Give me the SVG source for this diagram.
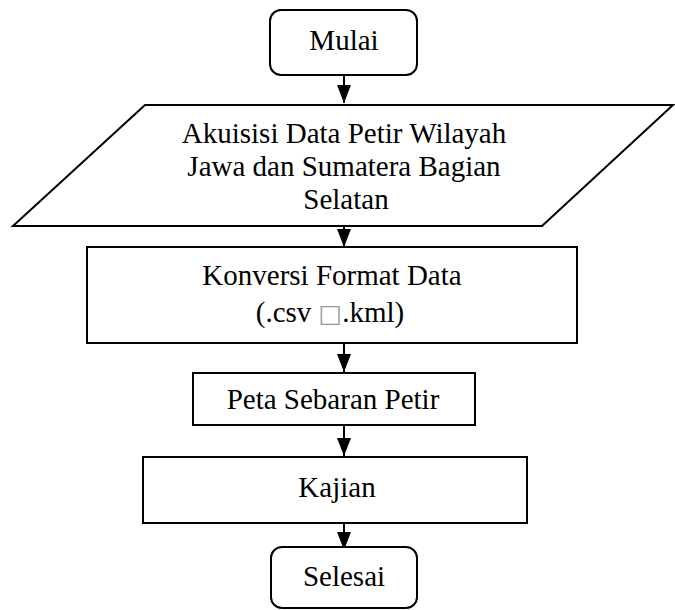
<svg xmlns="http://www.w3.org/2000/svg" width="675" height="610" viewBox="0 0 675 610">
<style>
.s{fill:#fff;stroke:#000;stroke-width:2}
.t{font-family:'Liberation Serif','Times New Roman',serif;font-size:29px;fill:#000;text-anchor:middle}
.c{stroke:#000;stroke-width:2;fill:none}
.g{font-family:'DejaVu Sans',sans-serif;fill:#999;font-size:25px}
</style>
<defs>
<marker id="ah" markerWidth="18" markerHeight="14" refX="18" refY="7" orient="auto" markerUnits="userSpaceOnUse">
<path d="M0,0 L18,7 L0,14 z" fill="#000"/>
</marker>
</defs>
<rect width="675" height="610" fill="#fff"/>
<g id="connectors">
<line class="c" x1="344" y1="75" x2="344" y2="103" marker-end="url(#ah)"/>
<line class="c" x1="344" y1="226" x2="344" y2="247" marker-end="url(#ah)"/>
<line class="c" x1="344" y1="343" x2="344" y2="372" marker-end="url(#ah)"/>
<line class="c" x1="344" y1="425" x2="344" y2="456" marker-end="url(#ah)"/>
<line class="c" x1="344" y1="523" x2="344" y2="550" marker-end="url(#ah)"/>
</g>
<g id="mulai">
<rect class="s" x="270" y="10" width="147" height="65" rx="11"/>
<text class="t" x="344" y="50">Mulai</text>
</g>
<g id="akuisisi">
<polygon class="s" points="145,105 673,105 542,226 13,226"/>
<text class="t" x="344" y="143">Akuisisi Data Petir Wilayah</text>
<text class="t" x="344" y="176">Jawa dan Sumatera Bagian</text>
<text class="t" x="346" y="209">Selatan</text>
</g>
<g id="konversi">
<rect class="s" x="87" y="247" width="490" height="96"/>
<text class="t" x="332" y="285">Konversi Format Data</text>
<text class="t" x="330" y="322">(.csv <tspan class="g">□</tspan>.kml)</text>
</g>
<g id="peta">
<rect class="s" x="193" y="373" width="282" height="52"/>
<text class="t" x="333" y="409">Peta Sebaran Petir</text>
</g>
<g id="kajian">
<rect class="s" x="143" y="457" width="384" height="66"/>
<text class="t" x="337" y="497">Kajian</text>
</g>
<g id="selesai">
<rect class="s" x="271" y="547" width="146" height="61" rx="11"/>
<text class="t" x="344" y="586">Selesai</text>
</g>
</svg>
